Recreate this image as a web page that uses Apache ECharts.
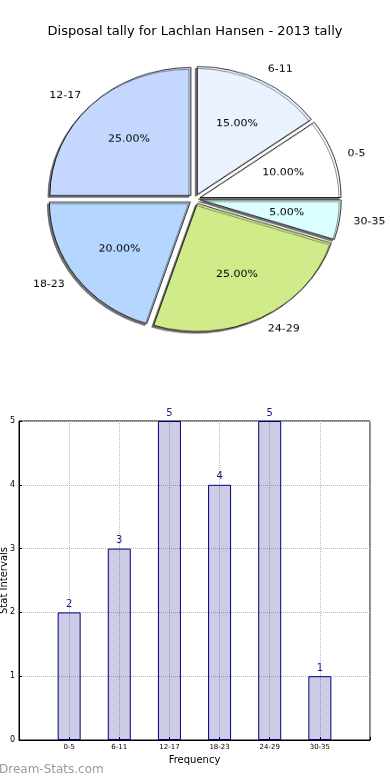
<!DOCTYPE html>
<html>
<head>
<meta charset="utf-8">
<script src="https://cdn.jsdelivr.net/npm/echarts@6/dist/echarts.min.js"></script>
<style>
html,body{margin:0;padding:0;background:#fff;}
#main{position:absolute;left:0;top:0;width:390px;height:780px;}
#pie{position:absolute;left:0;top:0;width:390px;height:400px;transform-origin:0 0;transform:scale(1,0.908);pointer-events:none;}
</style>
</head>
<body>
<div id="main"></div>
<div id="pie"></div>
<script>
const titleText = 'Disposal tally for Lachlan Hansen - 2013 tally';
const categories = ['0-5', '6-11', '12-17', '18-23', '24-29', '30-35'];
const tallies = [2, 3, 5, 4, 5, 1];
const sliceColors = ['#ffffff', '#eaf1ff', '#c4d8ff', '#b5d7ff', '#d1eb8b', '#dbffff'];
const yTicks = [0, 1, 2, 3, 4, 5];

const FONT = 'DejaVu Sans';
const total = tallies.reduce((a, b) => a + b, 0);

// ---------- bar chart + title ----------
const main = echarts.init(document.getElementById('main'), null, {renderer: 'canvas'});
main.setOption({
  animation: false,
  backgroundColor: '#fff',
  textStyle: {fontFamily: FONT},
  title: {
    text: titleText, left: 'center', top: 20,
    textStyle: {fontFamily: FONT, fontSize: 13, fontWeight: 'normal', color: '#000'}
  },
  graphic: [{
    type: 'text', left: -1, top: 764,
    style: {text: 'Dream-Stats.com', fontFamily: FONT, fontSize: 12, fill: '#9a9a9a'}
  }],
  grid: {left: 19, right: 20, top: 421, bottom: 40, show: true, borderColor: '#000', borderWidth: 1,
    backgroundColor: 'transparent', containLabel: false, outerBoundsMode: 'none'},
  xAxis: {
    type: 'value', min: -1, max: 6, interval: 1,
    name: 'Frequency', nameLocation: 'middle', nameGap: 15, nameMoveOverlap: false,
    nameTextStyle: {fontFamily: FONT, fontSize: 10, color: '#000'},
    axisLine: {show: true, onZero: false, lineStyle: {color: '#000'}},
    axisTick: {show: true, inside: true, length: 3, lineStyle: {color: '#000'}},
    axisLabel: {fontFamily: FONT, fontSize: 7, color: '#000', margin: 4,
      formatter: v => (categories[v] !== undefined ? categories[v] : '')},
    splitLine: {show: true, lineStyle: {color: '#b8b8b8', type: 'dotted', width: 1}}
  },
  yAxis: {
    type: 'value', min: 0, max: 5, interval: 1,
    name: 'Stat Intervals', nameLocation: 'middle', nameGap: 10, nameMoveOverlap: false,
    nameTextStyle: {fontFamily: FONT, fontSize: 10, color: '#000'},
    axisLine: {show: true, onZero: false, lineStyle: {color: '#000'}},
    axisTick: {show: true, inside: true, length: 3, lineStyle: {color: '#000'}},
    axisLabel: {fontFamily: FONT, fontSize: 8, color: '#000', margin: 4,
      formatter: v => (yTicks.indexOf(v) >= 0 ? String(v) : '')},
    splitLine: {show: true, lineStyle: {color: '#b8b8b8', type: 'dotted', width: 1}}
  },
  series: [{
    type: 'bar',
    data: categories.map((c, i) => [i, tallies[i]]),
    barWidth: 23,
    itemStyle: {color: 'rgba(0,0,128,0.2)', borderColor: '#000080', borderWidth: 1},
    label: {show: true, position: 'top', distance: 3, fontFamily: FONT, fontSize: 10, color: '#1a1a8c',
      formatter: p => String(p.value[1])},
    z: 3
  }]
});

// ---------- pie ----------
const pie = echarts.init(document.getElementById('pie'), null, {renderer: 'canvas'});
const R = 141;
const CX = 194.8;
const CY = 219.2;
const OFF = 5.5;
const pieData = categories.map((c, i) => ({
  name: c, value: tallies[i], selected: true,
  itemStyle: {color: sliceColors[i]}
}));
pie.setOption({
  animation: false,
  series: [
    {
      type: 'pie', center: [CX, CY], radius: [0, R],
      startAngle: 0, clockwise: false,
      selectedMode: 'multiple', selectedOffset: OFF,
      avoidLabelOverlap: false, silent: true,
      data: pieData,
      itemStyle: {borderColor: '#000', borderWidth: 0.8,
        shadowColor: 'rgba(80,80,80,0.8)', shadowBlur: 0, shadowOffsetX: -2, shadowOffsetY: 2},
      label: {show: true, position: 'outside', fontFamily: FONT, fontSize: 11, color: '#000',
        distanceToLabelLine: 0, formatter: '{b}'},
      labelLine: {show: false, length: R * 0.1, length2: 0},
      emphasis: {disabled: true}
    },
    {
      type: 'pie', center: [CX, CY], radius: [0, R * 1.2],
      startAngle: 0, clockwise: false,
      selectedMode: 'multiple', selectedOffset: OFF,
      avoidLabelOverlap: false, silent: true,
      data: pieData.map(d => ({name: d.name, value: d.value, selected: true})),
      itemStyle: {color: 'rgba(0,0,0,0)', borderWidth: 0},
      label: {show: true, position: 'inside', fontFamily: FONT, fontSize: 11, color: '#000',
        formatter: p => (p.value / total * 100).toFixed(2) + '%'},
      labelLine: {show: false},
      emphasis: {disabled: true}
    }
  ]
});
</script>
</body>
</html>
